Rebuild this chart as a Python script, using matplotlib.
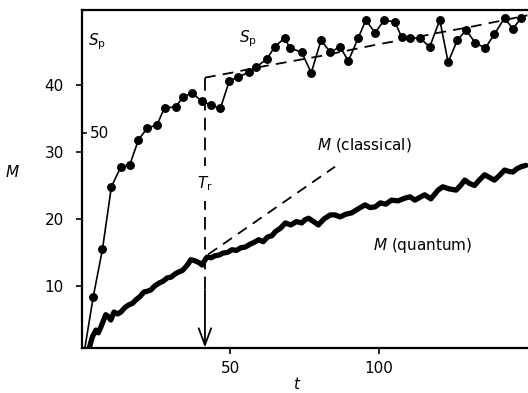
import matplotlib
matplotlib.use("Agg")
import matplotlib.pyplot as plt

# ---- data ----
sp_t = [1.0, 3.8, 6.9, 9.9, 13.1, 16.1, 19.0, 22.0, 25.2, 27.8,
        31.5, 34.0, 37.1, 40.3, 43.4, 46.6, 49.6, 52.7, 56.1, 58.7,
        62.3, 64.9, 68.2, 70.1, 74.0, 77.2, 80.5, 83.6, 86.9, 89.7,
        93.0, 95.6, 98.7, 101.8, 105.4, 107.6, 110.4, 113.8, 117.1, 120.5,
        123.3, 126.4, 129.4, 132.4, 135.8, 138.9, 142.3, 145.1, 147.9]
sp_M = [0.8, 8.4, 15.5, 24.8, 27.8, 28.1, 31.8, 33.6, 34.0, 36.6,
        36.7, 38.2, 38.8, 37.6, 37.0, 36.5, 40.6, 41.2, 41.9, 42.7,
        43.9, 45.7, 47.0, 45.5, 44.9, 41.8, 46.7, 44.9, 45.7, 43.6,
        47.0, 49.7, 47.8, 49.7, 49.4, 47.2, 47.0, 47.0, 45.7, 49.7,
        43.4, 46.7, 48.2, 46.3, 45.5, 47.6, 50.0, 48.4, 50.0]

q_t = [2.5, 3.5, 4.7, 5.5, 6.4, 7.2, 8.0, 8.9, 9.7, 10.8,
       12.0, 13.1, 14.5, 15.9, 17.0, 18.1, 19.5, 20.9, 22.0, 23.2,
       24.5, 25.9, 27.3, 28.7, 30.0, 31.4, 32.7, 33.8, 34.9, 35.8,
       36.6, 37.7, 38.8, 39.7, 40.5, 41.3, 42.1, 43.5, 44.8, 46.1,
       47.5, 49.0, 50.5, 52.0, 53.5, 55.0, 56.5, 58.4, 59.5, 61.0,
       62.5, 64.0, 65.1, 66.8, 68.5, 70.3, 72.2, 74.0, 75.2, 76.3,
       78.0, 79.6, 81.5, 83.6, 85.2, 86.9, 88.8, 90.8, 93.0, 95.3,
       97.0, 98.7, 100.5, 102.3, 104.2, 106.5, 108.7, 110.5, 112.1, 113.7,
       115.4, 117.5, 119.9, 121.5, 123.5, 126.0, 127.5, 128.9, 130.5, 132.2,
       134.0, 135.6, 137.2, 138.9, 140.6, 142.3, 143.7, 145.1, 146.5, 147.9,
       149.5]
q_M = [0.8, 2.4, 3.4, 3.0, 3.9, 4.8, 5.7, 5.4, 4.9, 6.1,
       5.8, 6.1, 6.8, 7.2, 7.4, 7.9, 8.4, 9.1, 9.2, 9.4,
       10.0, 10.4, 10.7, 11.2, 11.3, 11.8, 12.1, 12.3, 12.8, 13.3,
       13.9, 13.8, 13.6, 13.4, 13.1, 13.8, 14.3, 14.2, 14.5, 14.6,
       14.9, 15.0, 15.4, 15.3, 15.7, 15.8, 16.2, 16.6, 16.9, 16.6,
       17.3, 17.5, 18.1, 18.6, 19.4, 19.1, 19.6, 19.4, 19.9, 20.1,
       19.6, 19.1, 20.0, 20.6, 20.6, 20.3, 20.7, 20.9, 21.5, 22.1,
       21.7, 21.8, 22.4, 22.2, 22.8, 22.7, 23.1, 23.3, 22.8, 23.2,
       23.6, 23.0, 24.3, 24.8, 24.5, 24.3, 25.0, 25.8, 25.3, 25.0,
       25.9, 26.6, 26.2, 25.8, 26.5, 27.3, 27.1, 27.0, 27.5, 27.8,
       28.0]

fit_t = [41.4, 50, 60, 70, 80, 90, 100, 110, 120, 130, 140, 150]
fit_M = [41.1, 41.8, 42.7, 43.5, 44.3, 45.2, 46.1, 46.9, 47.8, 48.6, 49.5, 50.4]

cl_t = [42.5, 85.2]
cl_M = [14.7, 27.8]

t_r = 41.4
tr_top = 41.1
tr_dash_end = 9.4

x_ticks = [50, 100]
x_ticklabels = ["50", "100"]
y_ticks = [10, 20, 30, 40]
y_ticklabels = ["10", "20", "30", "40"]
sp_scale_M = 32.8
sp_scale_label = "50"

# ---- figure ----
plt.rcParams['mathtext.fontset'] = 'dejavusans'
plt.rcParams['font.family'] = ['DejaVu Sans']
fig = plt.figure(figsize=(5.28, 3.93), dpi=100)
ax = fig.add_axes([82/528, 45.5/393, (528-82)/528, (347.5-10)/393])
ax.set_xlim(0, 150.2)
ax.set_ylim(0.8, 51.2)

ax.plot(sp_t, sp_M, color='k', lw=1.2, marker='o', ms=5.4,
        markevery=list(range(1, len(sp_t))), solid_joinstyle='round', zorder=4)
ax.plot(q_t, q_M, color='k', lw=3.8, solid_joinstyle='round', solid_capstyle='round', zorder=3)
ax.plot(fit_t, fit_M, color='k', lw=1.3, dashes=(6, 4), zorder=2)
ax.plot(cl_t, cl_M, color='k', lw=1.3, dashes=(6, 4), zorder=2)
ax.plot([t_r, t_r], [tr_top, tr_dash_end], color='k', lw=1.3, dashes=(7, 4), zorder=2)
ax.annotate('', xy=(t_r, 0.8), xytext=(t_r, tr_dash_end),
            arrowprops=dict(arrowstyle='->,head_length=1.2,head_width=0.45',
                            lw=1.3, color='k', shrinkA=0, shrinkB=0),
            fontsize=10, zorder=5)

# inner tick for the Sp scale
ax.plot([0, 1.4], [sp_scale_M, sp_scale_M], color='k', lw=1.2, clip_on=False)
ax.text(2.6, sp_scale_M, sp_scale_label, fontsize=11, ha='left', va='center')

ax.text(2.0, 46.4, r'$S_{\rm p}$', fontsize=11, ha='left', va='center')
ax.text(53.0, 46.9, r'$S_{\rm p}$', fontsize=11, ha='left', va='center')
ax.text(t_r, 25.3, r'$T_{\rm r}$', fontsize=11, ha='center', va='center', zorder=6,
        bbox=dict(facecolor='white', edgecolor='none', pad=6))
ax.text(79.0, 31.0, r'$M$ (classical)', fontsize=11, ha='left', va='center')
ax.text(98.0, 16.1, r'$M$ (quantum)', fontsize=11, ha='left', va='center')

ax.set_xticks(x_ticks)
ax.set_xticklabels(x_ticklabels)
ax.set_yticks(y_ticks)
ax.set_yticklabels(y_ticklabels)
ax.tick_params(axis='both', direction='out', length=4, width=1.2, labelsize=11, pad=6)
ax.tick_params(axis='y', pad=9)

for s in ['left', 'bottom', 'top']:
    ax.spines[s].set_linewidth(1.6)
ax.spines['right'].set_visible(False)

fig.text(12/528, 1 - 172/393, r'$M$', fontsize=11, ha='center', va='center')
fig.text(297/528, 1 - 384/393, r'$t$', fontsize=11, ha='center', va='center')

fig.savefig('out.png', dpi=100)
